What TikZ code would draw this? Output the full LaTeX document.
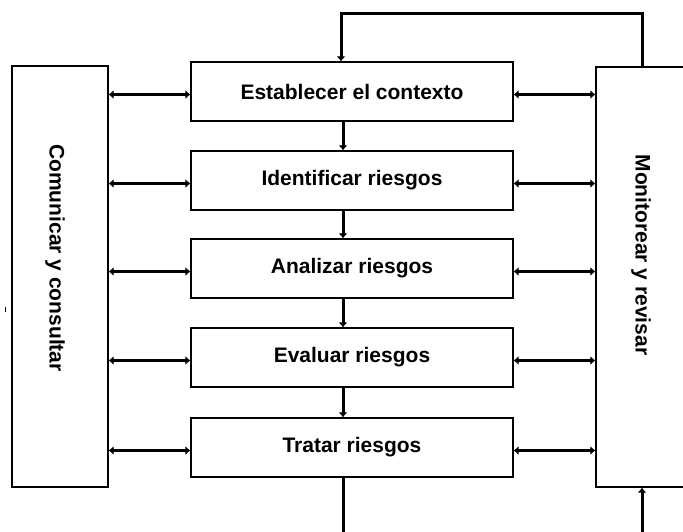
\documentclass[tikz,border=0pt]{standalone}
\usepackage{fontspec}
\setmainfont{Liberation Sans}
\usetikzlibrary{arrows.meta}
\begin{document}
\begin{tikzpicture}[x=1pt,y=-1pt,
  txt/.style={font=\fontsize{21}{25}\selectfont\bfseries},
  proc/.style={draw, line width=1.3pt, minimum width=322pt, minimum height=59pt, inner sep=0pt, txt},
  side/.style={draw, line width=1.3pt, inner sep=0pt},
  vlbl/.style={txt, rotate=-90, inner sep=0pt},
  link/.style={line width=3pt, {Latex[length=5pt,width=9pt]}-{Latex[length=5pt,width=9pt]}},
  flow/.style={line width=3pt, line join=miter, -{Latex[length=5pt,width=9pt]}},
  feed/.style={line width=3pt}]
\useasboundingbox (0,0) rectangle (683,531);
\clip (0,0) rectangle (683,531);
\fill[white] (0,0) rectangle (683,531);

% side boxes
\node[side, minimum width=96pt, minimum height=421pt] (L) at (60,276.5) {};
\node[side, minimum width=104pt, minimum height=420pt] (R) at (648,277) {};
\node[vlbl] (Lt) at (55,258) {Comunicar y consultar};
\node[vlbl] (Rt) at (641,255) {Monitorear y revisar};

% process boxes
\node[proc] (c1) at (352,91.5) {Establecer el contexto};
\node[proc] (c2) at (352,180.5) {Identificar riesgos};
\node[proc] (c3) at (352,268.5) {Analizar riesgos};
\node[proc] (c4) at (352,357.5) {Evaluar riesgos};
\node[proc] (c5) at (352,447.5) {Tratar riesgos};

% horizontal links
\foreach \c in {c1,c2,c3,c4,c5}{
  \draw[link] ([yshift=-3pt]\c.west -| L.east) -- ([yshift=-3pt]\c.west);
  \draw[link] ([yshift=-3pt]\c.east) -- ([yshift=-3pt]\c.east -| R.west);
}

% vertical flow
\draw[flow] ([xshift=-9pt]c1.south) -- ([xshift=-9pt]c2.north);
\draw[flow] ([xshift=-9pt]c2.south) -- ([xshift=-9pt]c3.north);
\draw[flow] ([xshift=-9pt]c3.south) -- ([xshift=-9pt]c4.north);
\draw[flow] ([xshift=-9pt]c4.south) -- ([xshift=-9pt]c5.north);

% feedback loop on top
\coordinate (tr) at (642,13);
\coordinate (tl) at (341,13);
\draw[flow] ([xshift=-6pt]R.north) -- (tr) -- (tl) -- ([xshift=-11pt]c1.north);

% bottom lines
\coordinate (bo) at (343,545);
\coordinate (bi) at (642,545);
\draw[feed] ([xshift=-9pt]c5.south) -- (bo);
\draw[flow] (bi) -- ([xshift=-6pt]R.south);

% stray tick
\coordinate (t1) at (5,307);
\coordinate (t2) at (5,312);
\draw[line width=1pt] (t1) -- (t2);
\end{tikzpicture}
\end{document}
